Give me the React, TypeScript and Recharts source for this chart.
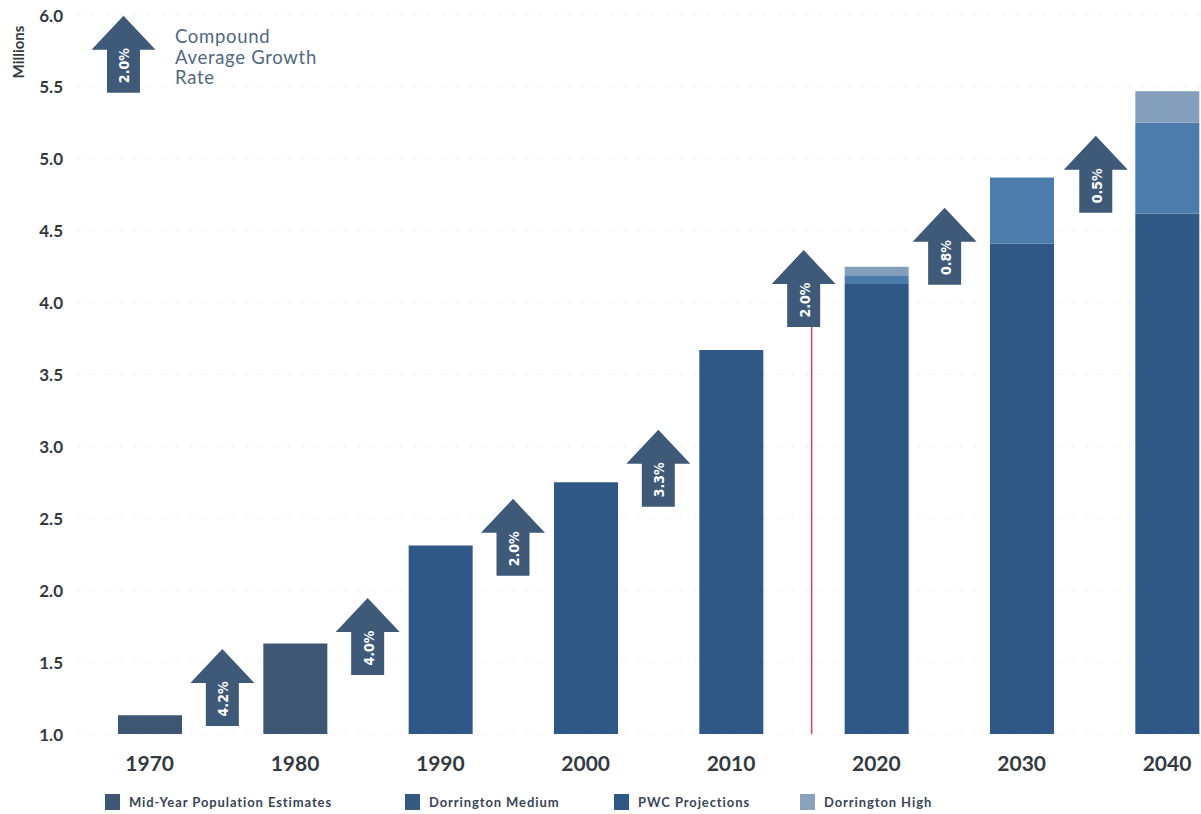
import React from 'react';
import {
  ComposedChart,
  Bar,
  Scatter,
  XAxis,
  YAxis,
  CartesianGrid,
  ReferenceLine,
} from 'recharts';

// population in millions
const YEARS = [1970, 1980, 1990, 2000, 2010, 2020, 2030, 2040];
const ESTIMATE_TOP = [1.13, 1.63, 0, 0, 0, 0, 0, 0];
const MEDIUM_TOP = [0, 0, 2.31, 2.75, 3.67, 4.13, 4.41, 4.62];
const PWC_TOP = [0, 0, 0, 0, 0, 4.19, 4.87, 5.25];
const HIGH_TOP = [0, 0, 0, 0, 0, 4.25, 4.87, 5.47];

// compound average growth rate arrows (x = year, y = arrow foot)
const GROWTH_X = [1975, 1985, 1995, 2005, 2015, 2024.7, 2035.1];
const GROWTH_BASE = [1.056, 1.41, 2.1, 2.58, 3.83, 4.125, 4.625];
const GROWTH_LABELS = ['4.2%', '4.0%', '2.0%', '3.3%', '2.0%', '0.8%', '0.5%'];

// key arrow in the top-left corner
const KEY_ARROW = { year: 1968.2, y: 5.46, label: '2.0%' };

const Y_TICKS = [1.0, 1.5, 2.0, 2.5, 3.0, 3.5, 4.0, 4.5, 5.0, 5.5, 6.0];
const X_DOMAIN = [1965, 2042.34];
const BASE_YEAR = 2015.55;

const COLORS = {
  estimate: '#3c5673',
  medium: '#2f5886',
  pwc: '#4c7cac',
  high: '#849fbb',
  arrow: '#3e5a78',
  line: '#d4455c',
};

const LEGEND = [
  { label: 'Mid-Year Population Estimates', color: '#3c5673', left: 105 },
  { label: 'Dorrington Medium', color: '#35597f', left: 405 },
  { label: 'PWC Projections', color: '#2f5785', left: 614 },
  { label: 'Dorrington High', color: '#8aa3bd', left: 800 },
];

const data = YEARS.map((year, i) => ({
  year,
  estimate: ESTIMATE_TOP[i],
  medium: MEDIUM_TOP[i],
  pwc: PWC_TOP[i] > 0 ? PWC_TOP[i] - MEDIUM_TOP[i] : 0,
  high: HIGH_TOP[i] > 0 ? HIGH_TOP[i] - Math.max(PWC_TOP[i], MEDIUM_TOP[i]) : 0,
}));

const arrows = [
  ...GROWTH_X.map((year, i) => ({ year, y: GROWTH_BASE[i], label: GROWTH_LABELS[i] })),
  KEY_ARROW,
];

const FONT = 'Lato, "DejaVu Sans", sans-serif';

const ArrowShape = (props: any) => {
  const { cx, cy, payload } = props;
  if (cx == null || cy == null) return null;
  const hw = 32;
  const sw = 16.5;
  const h = 77;
  const hh = 34;
  const top = cy - h;
  const d = `M${cx - sw},${cy} L${cx - sw},${top + hh} L${cx - hw},${top + hh} L${cx},${top} L${cx + hw},${top + hh} L${cx + sw},${top + hh} L${cx + sw},${cy} Z`;
  const ty = cy - 27;
  return (
    <g>
      <path d={d} fill={COLORS.arrow} />
      <text
        x={cx + 1}
        y={ty}
        transform={`rotate(-90 ${cx + 1} ${ty})`}
        textAnchor="middle"
        dominantBaseline="central"
        fill="#ffffff"
        fontSize={14}
        fontWeight={700}
        fontFamily='"DejaVu Sans Condensed", "DejaVu Sans", sans-serif'
      >
        {payload.label}
      </text>
    </g>
  );
};

const XTick = (props: any) => {
  const { x, y, payload } = props;
  return (
    <text
      x={x}
      y={y + 20}
      textAnchor="middle"
      dominantBaseline="central"
      fill="#333a40"
      fontSize={21}
      fontWeight={700}
      fontFamily={FONT}
    >
      {payload.value}
    </text>
  );
};

const YTick = (props: any) => {
  const { x, y, payload } = props;
  return (
    <text
      x={x - 6}
      y={y}
      textAnchor="end"
      dominantBaseline="central"
      fill="#333a40"
      fontSize={17}
      fontWeight={700}
      fontFamily={FONT}
    >
      {payload.value.toFixed(1)}
    </text>
  );
};

const App: React.FC = () => {
  return (
    <div
      style={{
        position: 'absolute',
        left: 0,
        top: 0,
        width: 1201,
        height: 814,
        background: '#ffffff',
        overflow: 'hidden',
        fontFamily: FONT,
      }}
    >
      <ComposedChart
        width={1201}
        height={814}
        data={data}
        margin={{ top: 15, right: 0, bottom: 0, left: 0 }}
      >
        <CartesianGrid
          vertical={false}
          stroke="#efefef"
          strokeDasharray="4 10"
        />
        <XAxis
          dataKey="year"
          type="number"
          domain={X_DOMAIN}
          ticks={YEARS}
          allowDataOverflow
          axisLine={false}
          tickLine={false}
          height={80}
          tick={<XTick />}
          interval={0}
        />
        <XAxis
          xAxisId="arrows"
          dataKey="year"
          type="number"
          domain={X_DOMAIN}
          allowDataOverflow
          hide
        />
        <YAxis
          type="number"
          domain={[1, 6]}
          ticks={Y_TICKS}
          allowDataOverflow
          axisLine={false}
          tickLine={false}
          width={77}
          tick={<YTick />}
          interval={0}
        />
        <Bar dataKey="estimate" stackId="a" fill={COLORS.estimate} barSize={64} isAnimationActive={false} />
        <Bar dataKey="medium" stackId="a" fill={COLORS.medium} barSize={64} isAnimationActive={false} />
        <Bar dataKey="pwc" stackId="a" fill={COLORS.pwc} barSize={64} isAnimationActive={false} />
        <Bar dataKey="high" stackId="a" fill={COLORS.high} barSize={64} isAnimationActive={false} />
        <ReferenceLine
          segment={[
            { x: BASE_YEAR, y: 1 },
            { x: BASE_YEAR, y: GROWTH_BASE[4] },
          ]}
          stroke={COLORS.line}
          strokeWidth={1.5}
        />
        <Scatter
          xAxisId="arrows"
          data={arrows}
          dataKey="y"
          shape={<ArrowShape />}
          isAnimationActive={false}
        />
      </ComposedChart>

      <div
        style={{
          position: 'absolute',
          left: 18,
          top: 52,
          transform: 'translate(-50%, -50%) rotate(-90deg)',
          fontSize: 15,
          fontWeight: 700,
          color: '#333a40',
          whiteSpace: 'nowrap',
        }}
      >
        Millions
      </div>

      <div
        style={{
          position: 'absolute',
          left: 175,
          top: 26,
          fontSize: 18.5,
          lineHeight: '20.5px',
          letterSpacing: 0.7,
          color: '#51687f',
        }}
      >
        Compound
        <br />
        Average Growth
        <br />
        Rate
      </div>

      {LEGEND.map((item) => (
        <div
          key={item.label}
          style={{
            position: 'absolute',
            left: item.left,
            top: 794,
            display: 'flex',
            alignItems: 'center',
            whiteSpace: 'nowrap',
          }}
        >
          <span
            style={{
              display: 'inline-block',
              width: 15,
              height: 16,
              background: item.color,
              marginRight: 9,
            }}
          />
          <span
            style={{
              fontSize: 13,
              fontWeight: 700,
              letterSpacing: 0.9,
              color: '#3a4656',
            }}
          >
            {item.label}
          </span>
        </div>
      ))}
    </div>
  );
};

export default App;
